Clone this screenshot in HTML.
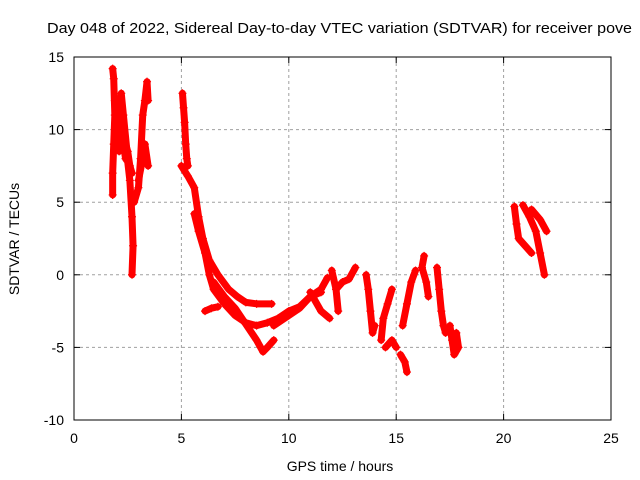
<!DOCTYPE html>
<html><head><meta charset="utf-8"><style>
body{margin:0;background:#fff;overflow:hidden}
svg{display:block;font-family:"Liberation Sans",sans-serif}
</style></head><body>
<svg id="chart" width="640" height="480">
<text x="47" y="33" font-size="15" textLength="585" lengthAdjust="spacingAndGlyphs" fill="#000">Day 048 of 2022, Sidereal Day-to-day VTEC variation (SDTVAR) for receiver pove</text>
<g id="grid"></g>
<g id="marks"></g>
<rect x="74" y="57" width="537" height="363" fill="none" stroke="#000" stroke-width="1"/>
<g id="axes"></g>
<text x="340" y="471" font-size="14" text-anchor="middle">GPS time / hours</text>
<text transform="translate(19,239) rotate(-90)" font-size="14" text-anchor="middle">SDTVAR / TECUs</text>
</svg>
<script>
const xTicks=[0,5,10,15,20,25];
const yTicks=[-10,-5,0,5,10,15];
const tracks=[
[[1.8,14.2],[1.85,13.5],[1.9,11],[1.85,9],[1.8,7],[1.8,5.5]],
[[1.9,12],[2.0,11],[2.1,10],[2.2,9.5],[2.3,9],[2.4,8],[2.5,7.8],[2.6,6.5],[2.7,4],[2.75,2],[2.7,0]],
[[2.0,9],[2.1,11],[2.2,12.5],[2.3,11],[2.5,8],[2.7,7]],
[[2.1,8.5],[2.3,9.5],[2.5,8.5],[2.6,7.5]],
[[2.8,5],[3.0,6],[3.1,8],[3.2,11],[3.3,12],[3.4,13.3],[3.45,12]],
[[3.0,6.5],[3.2,8],[3.3,9],[3.45,7.5]],
[[5.05,12.5],[5.1,11.5],[5.15,10.5],[5.2,9],[5.25,8],[5.3,7.5]],
[[5.0,7.5],[5.3,6.8],[5.6,6],[5.8,4],[6.0,2.5],[6.3,1],[6.7,0],[7.2,-1],[7.6,-1.5],[8.0,-1.9],[8.5,-2],[9.2,-2]],
[[5.6,4.2],[5.8,3],[6.1,1.5],[6.3,0],[6.5,-1],[7.0,-2],[7.5,-2.8],[8.0,-3.3],[8.5,-3.5],[9.0,-3.3],[9.5,-3],[10.0,-2.5],[10.5,-2.2],[11,-1.5],[11.5,-1.2]],
[[6.5,-0.5],[7.0,-1.5],[7.5,-2.3],[8.0,-3.4],[8.5,-4.5],[8.8,-5.3],[9.0,-5],[9.3,-4.5]],
[[6.1,-2.5],[6.4,-2.3],[6.7,-2.2]],
[[9.3,-3.5],[10,-2.8],[10.5,-2.3],[11,-1.5],[11.5,-1],[11.8,-0.2]],
[[11,-1.2],[11.5,-2.5],[11.9,-3]],
[[12.0,0.3],[12.2,-1],[12.3,-2.5]],
[[12.2,-1],[12.5,-0.5],[12.8,-0.3],[13.1,0.5]],
[[13.6,0],[13.7,-1],[13.8,-2.5],[13.9,-4],[14.0,-3.5]],
[[14.3,-4.5],[14.4,-3],[14.6,-2],[14.8,-1]],
[[14.5,-5],[14.8,-4.5],[15.0,-5]],
[[15.3,-3.5],[15.5,-2],[15.7,-0.5],[15.9,0.3]],
[[15.2,-5.5],[15.4,-6],[15.5,-6.7]],
[[16.3,1.3],[16.2,0.5],[16.4,-0.5],[16.5,-1.5]],
[[16.9,0.5],[17.0,-1],[17.1,-2.5],[17.2,-3.5],[17.3,-4]],
[[17.5,-3.5],[17.6,-4.5],[17.7,-5.5],[17.9,-5],[17.8,-4]],
[[20.5,4.7],[20.6,3.5],[20.7,2.5],[21.0,2],[21.3,1.5]],
[[20.9,4.8],[21.2,4],[21.5,3],[21.7,1.5],[21.9,0]],
[[21.3,4.5],[21.7,3.8],[22.0,3]]
];
const NS='http://www.w3.org/2000/svg';
const X=h=>74+h*537/25, Y=v=>420-(v+10)*363/25;
const grid=document.getElementById('grid'),axes=document.getElementById('axes'),marks=document.getElementById('marks');
function mk(t,a,p){const e=document.createElementNS(NS,t);for(const k in a)e.setAttribute(k,a[k]);p.appendChild(e);return e;}
xTicks.forEach(t=>{const x=X(t);
 if(t>0&&t<25){const g=mk('line',{x1:x,x2:x,y1:57,y2:420,stroke:'#a0a0a0','stroke-dasharray':'3,3'},grid);
 
 }
 mk('line',{x1:x,x2:x,y1:420,y2:414,stroke:'#000'},axes);mk('line',{x1:x,x2:x,y1:57,y2:63,stroke:'#000'},axes);
 const l=mk('text',{x:x,y:443,'font-size':14,'text-anchor':'middle'},axes);l.textContent=t;
 
 });
yTicks.forEach(t=>{const y=Y(t);
 if(t>-10&&t<15){const g=mk('line',{x1:74,x2:611,y1:y,y2:y,stroke:'#a0a0a0','stroke-dasharray':'3,3'},grid);
 
 }
 mk('line',{x1:74,x2:80,y1:y,y2:y,stroke:'#000'},axes);mk('line',{x1:611,x2:605,y1:y,y2:y,stroke:'#000'},axes);
 const l=mk('text',{x:64,y:y+5,'font-size':14,'text-anchor':'end'},axes);l.textContent=t;
 
 });
tracks.forEach(tr=>{
 const p=mk('polyline',{points:tr.map(d=>X(d[0])+','+Y(d[1])).join(' '),fill:'none',stroke:'#f00','stroke-width':7,'stroke-linejoin':'round','stroke-linecap':'round'},marks);
 
 
 tr.forEach(d=>{const x=X(d[0]),y=Y(d[1]);
  const m=mk('path',{d:`M${x-4},${y}H${x+4}M${x},${y-4}V${y+4}`,stroke:'#f00','stroke-width':1.2},marks);
  
  });
});
</script>
</body></html>
